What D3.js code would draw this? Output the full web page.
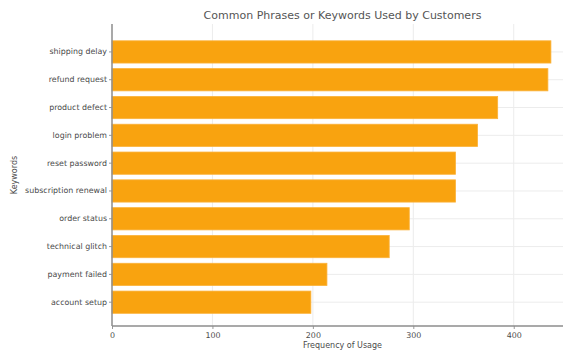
<!DOCTYPE html>
<html>
<head>
<meta charset="utf-8">
<script src="https://cdn.jsdelivr.net/npm/d3@7"></script>
<style>
  body { margin: 0; background: #fff; }
  svg { display: block; font-family: "DejaVu Sans", sans-serif; }
  .tick text { fill: #4a4a4a; font-size: 7.9px; }
  .tick line { stroke: #999; }
</style>
</head>
<body>
<div id="chart-area"></div>
<script>
// keywords, top to bottom
var keywords = ["shipping delay", "refund request", "product defect", "login problem",
    "reset password", "subscription renewal", "order status", "technical glitch",
    "payment failed", "account setup"];
var counts = [437, 434, 384, 364, 342, 342, 296, 276, 214, 198];
var xTicks = [0, 100, 200, 300, 400];

var W = 563, H = 353;
var plot = { left: 112, right: 573, top: 24, bottom: 326 };

var svg = d3.select("#chart-area")
    .append("svg")
        .attr("width", W)
        .attr("height", H);

var x = d3.scaleLinear()
    .domain([0, 459])
    .range([plot.left, plot.right]);

var y = d3.scaleBand()
    .domain(keywords)
    .range([plot.top, plot.bottom])
    .paddingInner(0.2)
    .paddingOuter(0.53)
    .align(0.57);

// grid
svg.append("g")
    .selectAll("line")
    .data(xTicks.slice(1))
    .enter().append("line")
        .attr("x1", d => x(d)).attr("x2", d => x(d))
        .attr("y1", plot.top).attr("y2", plot.bottom)
        .attr("stroke", "#ececec")
        .attr("stroke-width", 1);

svg.append("g")
    .selectAll("line")
    .data(keywords)
    .enter().append("line")
        .attr("x1", plot.left).attr("x2", W)
        .attr("y1", d => y(d) + y.bandwidth() / 2)
        .attr("y2", d => y(d) + y.bandwidth() / 2)
        .attr("stroke", "#ececec")
        .attr("stroke-width", 1);

// bars
svg.append("g")
    .selectAll("rect")
    .data(keywords)
    .enter().append("rect")
        .attr("x", x(0))
        .attr("y", d => y(d))
        .attr("width", (d, i) => x(counts[i]) - x(0))
        .attr("height", y.bandwidth())
        .attr("fill", "#f9a30f")
        .attr("stroke", "#fbb23a")
        .attr("stroke-width", 0.8);

// axes
var xAxis = d3.axisBottom(x).tickValues(xTicks).tickSize(3).tickSizeOuter(0).tickPadding(3);
var yAxis = d3.axisLeft(y).tickSize(3).tickSizeOuter(0).tickPadding(2);

var xg = svg.append("g")
    .attr("transform", "translate(0," + plot.bottom + ")")
    .call(xAxis)
    .attr("font-family", null)
    .attr("font-size", null);
xg.select(".domain").remove();

var yg = svg.append("g")
    .attr("transform", "translate(" + plot.left + ",0)")
    .call(yAxis)
    .attr("font-family", null)
    .attr("font-size", null);
yg.select(".domain").remove();

// spines
svg.append("line")
    .attr("x1", plot.left).attr("x2", plot.left)
    .attr("y1", plot.top).attr("y2", plot.bottom)
    .attr("stroke", "#8c8c8c").attr("stroke-width", 1.5);
svg.append("line")
    .attr("x1", plot.left).attr("x2", W)
    .attr("y1", plot.bottom).attr("y2", plot.bottom)
    .attr("stroke", "#8c8c8c").attr("stroke-width", 1.5);

// title and labels
svg.append("text")
    .attr("x", (plot.left + plot.right) / 2)
    .attr("y", 19)
    .attr("text-anchor", "middle")
    .attr("font-size", "11px")
    .attr("fill", "#555")
    .text("Common Phrases or Keywords Used by Customers");

svg.append("text")
    .attr("x", (plot.left + plot.right) / 2)
    .attr("y", 348)
    .attr("text-anchor", "middle")
    .attr("font-size", "8px")
    .attr("fill", "#4a4a4a")
    .text("Frequency of Usage");

svg.append("text")
    .attr("transform", "translate(17," + ((plot.top + plot.bottom) / 2) + ") rotate(-90)")
    .attr("text-anchor", "middle")
    .attr("font-size", "8px")
    .attr("fill", "#4a4a4a")
    .text("Keywords");
</script>
</body>
</html>
